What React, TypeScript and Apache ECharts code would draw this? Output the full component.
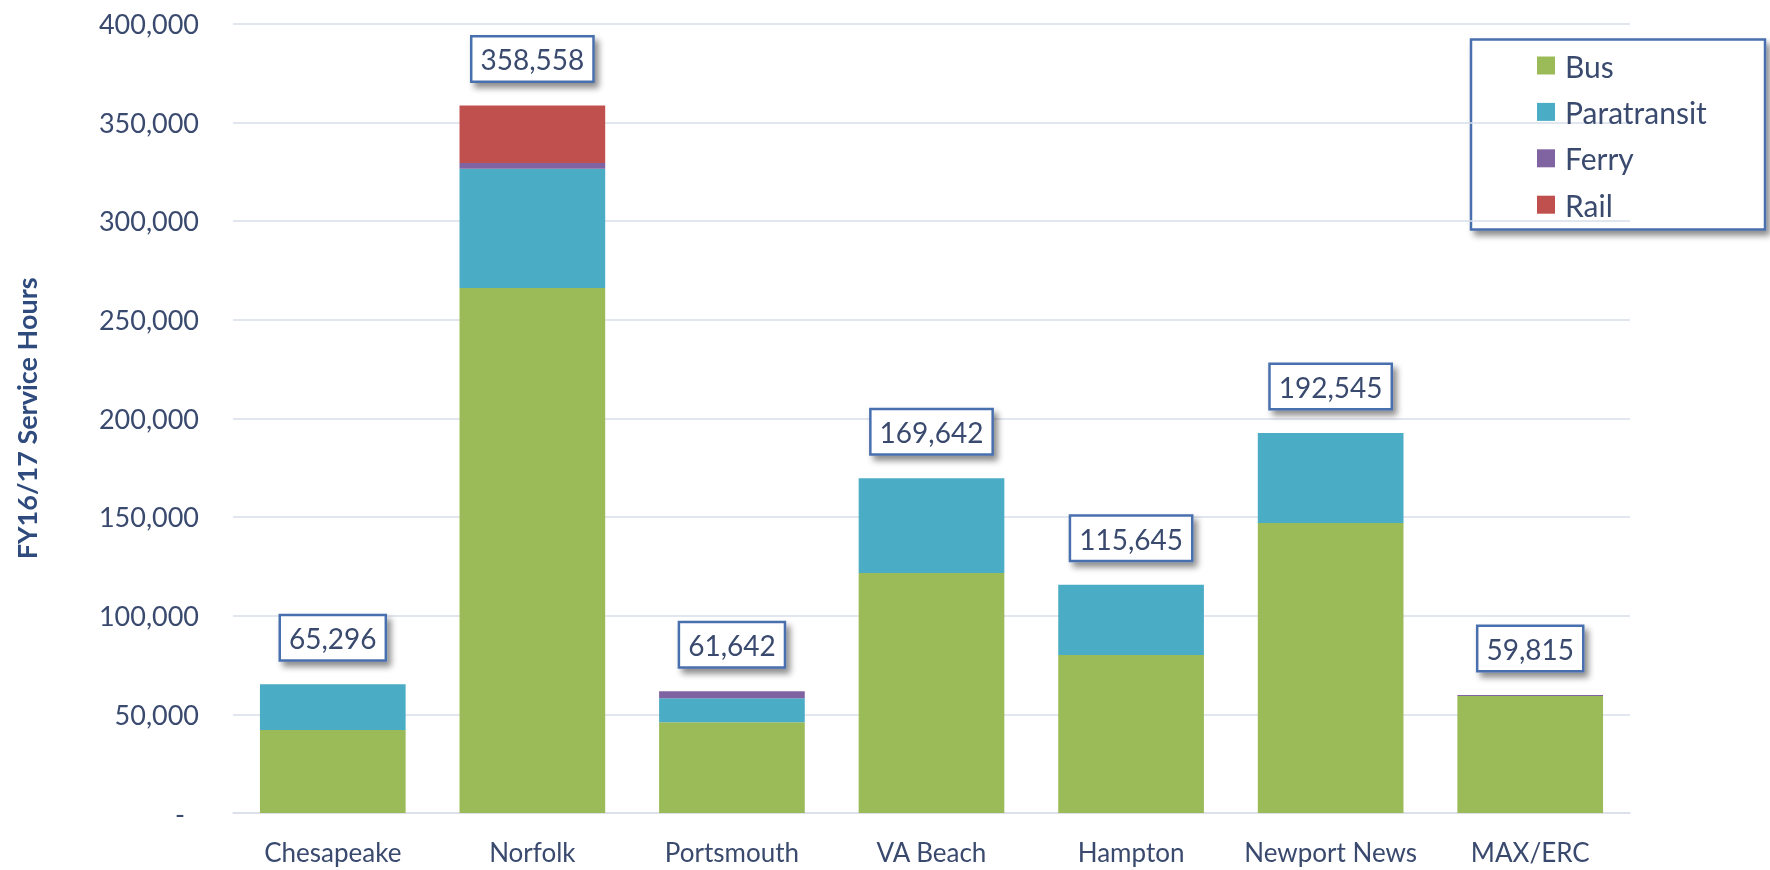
import React, { useEffect, useRef } from "react";
import * as echarts from "echarts";

const categories = ["Chesapeake", "Norfolk", "Portsmouth", "VA Beach", "Hampton", "Newport News", "MAX/ERC"];
const busValues = [42100, 266000, 46000, 121550, 80120, 146900, 59315];
const paratransitValues = [23196, 60500, 12150, 48092, 35525, 45645, 0];
const ferryValues = [0, 2900, 3492, 0, 0, 0, 500];
const railValues = [0, 29158, 0, 0, 0, 0, 0];
const totals = [65296, 358558, 61642, 169642, 115645, 192545, 59815];
const yTicks = { min: 0, max: 400000, interval: 50000 };

const FONT = "Lato";
const TEXT = "#3A4A6E";
const BORDER = "#4A6FAE";

export default function App() {
  const ref = useRef<HTMLDivElement>(null);
  useEffect(() => {
    if (!ref.current) return;
    const chart = echarts.init(ref.current, undefined, { renderer: "svg" });
    const fmt = (v: number) => v.toLocaleString("en-US");
    const bar = (name: string, data: number[], color: string) => ({
      name,
      type: "bar",
      stack: "total",
      data,
      barCategoryGap: "27%",
      itemStyle: { color },
    });
    chart.setOption({
      animation: false,
      grid: { left: 233, right: 140, top: 23.6, bottom: 57 },
      graphic: [
        {
          type: "rect",
          z: 0,
          shape: { x: 1471, y: 39.5, width: 294, height: 190 },
          style: {
            fill: "#ffffff",
            stroke: BORDER,
            lineWidth: 2.5,
            shadowBlur: 6,
            shadowOffsetX: 4,
            shadowOffsetY: 5,
            shadowColor: "rgba(0,0,0,0.45)",
          },
        },
      ],
      legend: {
        z: 10,
        orient: "vertical",
        left: 1537,
        top: 50,
        padding: 0,
        itemWidth: 18,
        itemHeight: 18,
        itemGap: 15.4,
        icon: "rect",
        data: ["Bus", "Paratransit", "Ferry", "Rail"],
        textStyle: { fontFamily: FONT, fontSize: 30, lineHeight: 31, color: TEXT, padding: [0, 0, 0, 5] },
      },
      xAxis: {
        type: "category",
        data: categories,
        axisLine: { lineStyle: { color: "#D9DEE9", width: 1.5 } },
        axisTick: { show: false },
        axisLabel: { interval: 0, fontFamily: FONT, fontSize: 26, color: TEXT, margin: 26 },
      },
      yAxis: {
        type: "value",
        min: yTicks.min,
        max: yTicks.max,
        interval: yTicks.interval,
        name: "FY16/17 Service Hours",
        nameLocation: "middle",
        nameGap: 193,
        nameTextStyle: { fontFamily: FONT, fontSize: 27, fontWeight: "bold", color: "#2F4A7C" },
        axisLine: { show: false },
        axisTick: { show: false },
        splitLine: { lineStyle: { color: "#D9DEE9", width: 1.5 } },
        axisLabel: {
          fontFamily: FONT,
          fontSize: 27,
          color: TEXT,
          margin: 34,
          formatter: (v: number) => (v === 0 ? "{dash|-}" : fmt(v)),
          rich: { dash: { fontFamily: FONT, fontSize: 27, color: TEXT, padding: [0, 14, 0, 0] } },
        },
      },
      series: [
        bar("Bus", busValues, "#9BBB59"),
        bar("Paratransit", paratransitValues, "#4BACC6"),
        bar("Ferry", ferryValues, "#8064A2"),
        bar("Rail", railValues, "#C0504D"),
        {
          name: "Total",
          type: "bar",
          stack: "total",
          data: totals.map(() => 0),
          itemStyle: { color: "transparent" },
          label: {
            show: true,
            position: "top",
            distance: 25,
            formatter: (p: any) => fmt(totals[p.dataIndex]),
            fontFamily: FONT,
            fontSize: 28,
            color: TEXT,
            backgroundColor: "#ffffff",
            borderColor: BORDER,
            borderWidth: 2.5,
            padding: [8, 8, 7, 8],
            shadowBlur: 6,
            shadowOffsetX: 4,
            shadowOffsetY: 5,
            shadowColor: "rgba(0,0,0,0.45)",
          },
        },
      ],
    });
    return () => chart.dispose();
  }, []);
  return <div ref={ref} style={{ position: "fixed", left: 0, top: 0, width: 1770, height: 870 }} />;
}
